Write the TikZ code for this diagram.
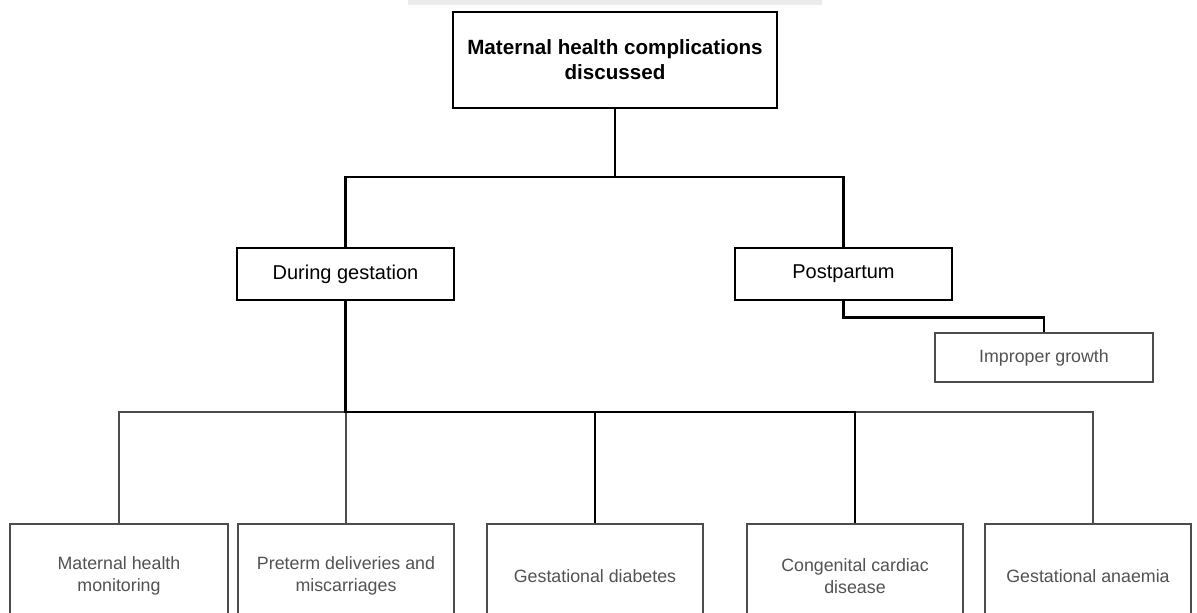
\documentclass[tikz,border=0pt]{standalone}
\usepackage{fontspec}
\setmainfont{Liberation Sans}
\begin{document}
\begin{tikzpicture}[x=1pt,y=-1pt,
  mainbox/.style={draw=black, line width=2.8pt, fill=white, align=center,
    inner sep=2pt, font=\fontsize{20}{24}\selectfont},
  topbox/.style={mainbox, font=\fontsize{20.6}{25}\selectfont\bfseries},
  leafbox/.style={draw=black!70, line width=2.2pt, fill=white, align=center,
    text=black!68, inner sep=2pt, font=\fontsize{17.8}{21.5}\selectfont},
  strong/.style={draw=black, line width=2.8pt},
  weak/.style={draw=black!70, line width=2.2pt},
]
\useasboundingbox (0,0) rectangle (1197,613);
\clip (0,0) rectangle (1197,613);
\fill[white] (0,0) rectangle (1197,613);
% faint strip along the upper edge
\fill[black!8] (408,0) rectangle (822,5);

% bus levels
\coordinate (busA) at (0,177);
\coordinate (busB) at (0,412);

% boxes
\node[topbox, minimum width=324pt, minimum height=96pt] (top) at (615,60)
  {Maternal health complications\\discussed};
\node[mainbox, minimum width=217pt, minimum height=52pt] (dg) at (345.5,274) {During gestation};
\node[mainbox, minimum width=217pt, minimum height=52pt] (pp) at (843.5,274) {Postpartum};
\node[leafbox, minimum width=218pt, minimum height=49pt] (ig) at (1044,357.5) {Improper growth};

\node[leafbox, minimum width=218pt, minimum height=104pt, anchor=north] (b1) at (119,523)
  {Maternal health\\monitoring};
\node[leafbox, minimum width=216pt, minimum height=104pt, anchor=north] (b2) at (346,523)
  {Preterm deliveries and\\miscarriages};
\node[leafbox, minimum width=216pt, minimum height=104pt, anchor=north] (b3) at (595,523)
  {Gestational diabetes};
\node[leafbox, minimum width=216pt, minimum height=104pt, anchor=north] (b4) at (855,523)
  {Congenital cardiac\\disease};
\node[leafbox, minimum width=206pt, minimum height=104pt, anchor=north] (b5) at (1088,523)
  {Gestational anaemia};
\coordinate (b5top) at (1093,523);

% upper tree
\draw[strong] (top.south) -- (top.south |- busA);
\draw[strong] (dg.north) |- (top.south |- busA);
\draw[strong] (pp.north) |- (top.south |- busA);
\draw[strong] (pp.south) -- ++(0,16) -| (ig.north);

% lower tree
\draw[weak] (b1.north) |- (dg.south |- busB);
\draw[weak] (b2.north) -- (b2.north |- busB);
\draw[weak] (b5top) |- (b4.north |- busB);
\draw[strong] (dg.south) -- (dg.south |- busB) -- (b4.north |- busB) -- (b4.north);
\draw[strong] (b3.north) -- (b3.north |- busB);
\end{tikzpicture}
\end{document}
